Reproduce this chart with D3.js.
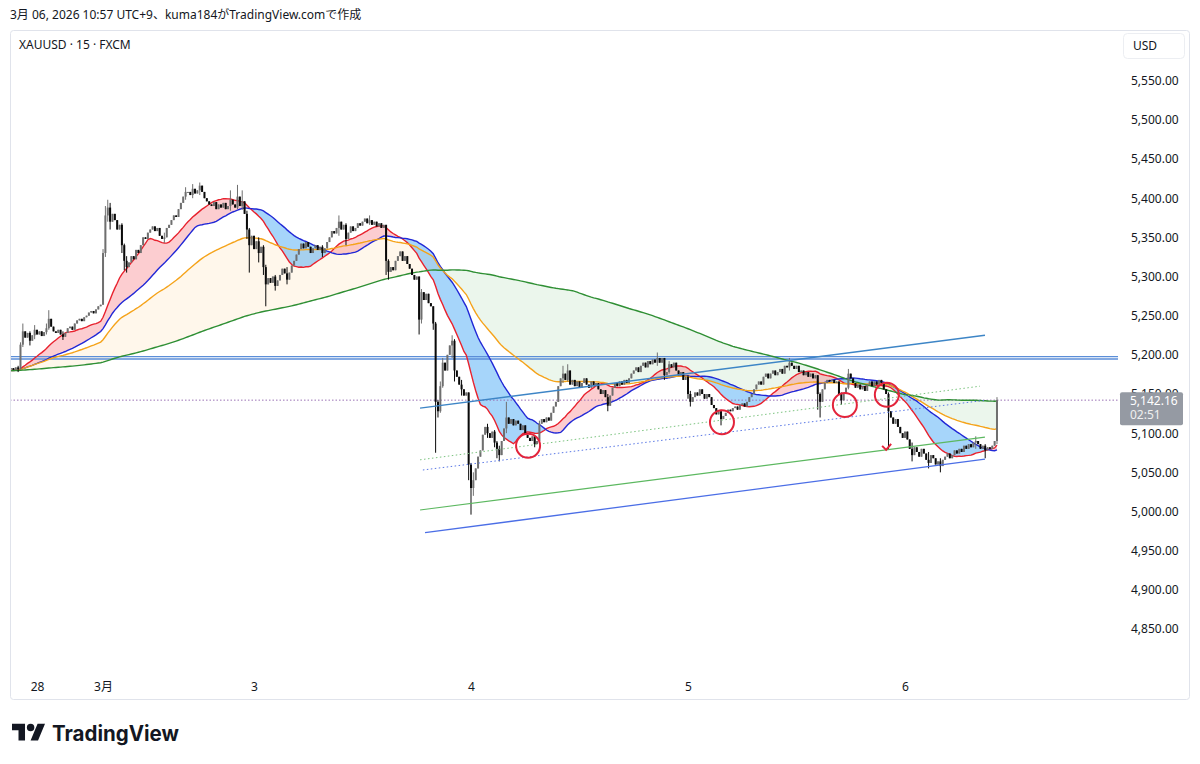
<!DOCTYPE html>
<html>
<head>
<meta charset="utf-8">
<script src="https://cdn.jsdelivr.net/npm/d3@7"></script>
<style>
	body{margin:0;background:#fff;}
	svg text{font-family:"Noto Sans","Noto Sans CJK JP",sans-serif;fill:#131722;}
</style>
</head>
<body>
<svg id="chart" width="1200" height="764"></svg>
<script>

// 15分足  close/high/low（high・low省略 = ヒゲなし）
var sessionStart = [1, 40, 104, 196, 288, 380];

var barsFeb27 = `
5183 5181 5184 5182/5186/5178 5213/5216/5181 5230/5240/5210 5222 5228 5218/5230/5212 5225
5232/5238/5220 5226 5230 5224 5229 5234/5240/5226 5246/5257/5232 5236 5230 5228
5232 5226 5223/5230/5219 5228 5234 5236 5232 5240 5244 5246
5243 5248 5250 5254 5256 5253 5258 5262 5264`;

var barsMar2 = `
5330/5335/5264 5378/5390/5325 5388/5398/5370 5370/5394/5360 5380 5372 5360 5366 5340/5368/5330 5320/5342/5308
5312/5326/5305 5318 5326 5322 5334 5330 5340 5350 5348 5356
5360 5364 5358 5362 5352 5348 5350/5356/5343 5362 5366 5372
5378 5376 5386 5394 5402 5408/5414/5398 5408 5404 5412/5418/5400 5406
5410 5416/5420/5404 5408 5400 5396 5392 5390 5395 5386 5392
5388 5394 5386 5390 5398/5410/5384 5392 5388 5402/5417/5386 5390 5396/5410/5385
5380 5360/5384/5348 5340/5362/5305 5352`;

var barsMar3 = `
5335 5345 5330/5350/5318 5338 5312/5340/5302 5290/5315/5262 5298 5292 5300 5288/5302/5282
5295 5302 5310 5304 5296/5312/5290 5305 5314 5320 5328 5335
5342 5336 5344 5338 5330 5336 5340 5334 5338 5330/5340/5325
5336 5344 5350 5358 5355 5362 5370/5378/5352 5360 5366 5348/5368/5340
5356 5364 5358 5362 5368 5365 5370 5374 5368 5372/5378/5366
5366 5370 5364 5368 5362 5366 5320/5366/5302 5306/5322/5296 5312 5308
5320 5326 5332 5320 5326 5316 5310 5302 5296 5300
5245/5300/5226 5280/5284/5240 5270 5278 5266 5262 5240/5262/5232 5140/5242/5075 5128/5142/5120 5160/5166/5126
5190/5196/5158 5180 5200 5212 5218/5225/5196 5180/5220/5166 5172 5162 5156/5168/5148 5148
5152 5060/5150/5040`;

var barsMar4 = `
5030/5062/4996 5040/5050/5020 5055 5070 5078 5098 5108 5100/5112/5094 5094 5102
5088/5104/5082 5080/5090/5068 5072/5084/5064 5090 5106 5120/5140/5100 5112 5118 5110 5116
5112 5104 5110 5098 5094 5090 5096 5086/5098/5082 5090 5112/5116/5088
5118 5114 5120 5116 5126 5134 5140 5160 5170 5176/5186/5164
5168 5180/5188/5166 5162 5168 5160 5166 5158 5164 5170 5162
5158 5166 5160 5164 5156 5150 5155 5146 5135/5150/5128 5148
5158 5164 5160 5166 5162 5168 5164 5170 5176 5180
5184 5178 5186 5190 5184 5192 5188 5194 5190 5196/5203/5186
5190 5196 5174/5196/5168 5178 5188/5192/5176 5184 5190 5180 5174 5178
5168 5172`;

var barsMar5 = `
5150/5174/5144 5140/5154/5134 5146 5152 5148 5156 5150 5144 5150 5146
5136 5132 5124 5128 5118/5130/5110 5122 5126 5130 5128 5132
5134 5130 5136 5138 5134 5140 5146 5150 5156 5162
5166 5162 5172 5176 5170 5176 5180 5174 5178 5182
5176 5186 5184 5190/5196/5180 5186 5182 5186 5178 5180 5174
5178 5172 5176 5170 5174 5150/5174/5130 5140/5152/5120 5156 5164 5168
5166 5168 5164 5166 5150 5142/5152/5136 5150 5158 5176/5182/5156 5170
5164 5158 5162 5156 5160 5154 5162 5166 5160 5166
5162 5168 5164 5156 5150 5128/5152/5080 5120 5112 5118 5108
5100 5094`;

var barsMar6 = `
5102 5092 5080 5072/5088/5064 5082 5076 5070 5080 5074 5066
5062/5076/5055 5072 5068 5060 5064 5058/5068/5050 5066 5070 5074 5068
5072 5078 5074 5080 5076 5084 5080 5086 5082 5088
5090/5096/5080 5086 5080 5084 5078/5086/5068 5082 5080 5084 5090 5142.16/5146/5086`;

var sessions = [barsFeb27, barsMar2, barsMar3, barsMar4, barsMar5, barsMar6];

var timeTickIdx = [12, 40, 104, 196, 288, 380];
var timeTickLabels = ["28", "3月", "3", "4", "5", "6"];
var priceTicks = [4850, 4900, 4950, 5000, 5050, 5100, 5150, 5200, 5250, 5300, 5350, 5400, 5450, 5500, 5550];

var lastPrice = 5142.16;
var countdown = "02:51";
var maPeriods = [20, 40, 75, 200];          // 赤, 青, オレンジ, 緑
var maTypes = ["sma", "sma", "ema", "sma"];
var warmupClose = 5180;                     // 表示範囲より前の水準（移動平均の助走用）

// 描画ツール（バー番号, 価格）
var hLevels = [5197.7, 5194.7];
var channelTop = [174.4, 5132, 413.9, 5225];
var channelGreenDot = [174.4, 5066, 411.8, 5160];
var channelBlueDot = [175.6, 5053, 413.9, 5142];
var channelGreen = [174.4, 5002, 413.9, 5095];
var channelBottom = [176.5, 4973, 413.9, 5067];
var circleIdx = [220.2, 302.4, 354.5, 372.3];
var circlePrice = [5084, 5114, 5136, 5149];
var checkMark = [372.0, 5080];

//--- データ整形
var bars = [];
sessions.forEach(function(s, k){
	s.trim().split(/\s+/).forEach(function(t, j){
		var v = t.split("/").map(Number);
		bars.push({i: sessionStart[k] + j, c: v[0], h: v[1], l: v[2]});
	});
});
bars.forEach(function(d, n){
	d.o = n ? bars[n-1].c : d.c;
	d.h = Math.max(d.h === undefined ? -Infinity : d.h, d.o, d.c);
	d.l = Math.min(d.l === undefined ? Infinity : d.l, d.o, d.c);
});

function sma(period){
	var q = [], sum = warmupClose * period;
	for(var k=0; k<period; k++) q.push(warmupClose);
	return bars.map(function(d){
		sum += d.c - q.shift();
		q.push(d.c);
		return sum / period;
	});
}
function ema(period){
	var a = 2 / (period + 1), e = warmupClose;
	return bars.map(function(d){
		e = a * d.c + (1 - a) * e;
		return e;
	});
}
var ma = maPeriods.map(function(p, k){ return maTypes[k] == "ema" ? ema(p) : sma(p); });

//--- スケール
var x = d3.scaleLinear().domain([196, 380]).range([471, 905]);
var y = d3.scaleLinear().domain([4850, 5550]).range([629, 80.7]);

var svg = d3.select("#chart");
var defs = svg.append("defs");

defs.append("clipPath").attr("id", "plotClip")
	.append("rect").attr("x", 11).attr("y", 31).attr("width", 1107).attr("height", 639);

// 枠
svg.append("rect")
	.attr("x", 10.5).attr("y", 30.5).attr("width", 1179).attr("height", 669)
	.attr("rx", 3).attr("fill", "#fff").attr("stroke", "#e0e3eb");

svg.append("text").attr("x", 10).attr("y", 19).attr("font-size", 12)
	.text("3月 06, 2026 10:57 UTC+9、kuma184がTradingView.comで作成");

svg.append("text").attr("x", 19).attr("y", 48.5).attr("font-size", 12)
	.text("XAUUSD · 15 · FXCM");

var plot = svg.append("g").attr("clip-path", "url(#plotClip)");

//--- 帯の塗り（移動平均の差）
function band(a, b, upColor, downColor, id){
	var xi = function(d, n){ return x(bars[n].i); };
	var area = d3.area().x(xi)
		.y0(function(d, n){ return y(b[n]); })
		.y1(function(d, n){ return y(a[n]); });
	defs.append("clipPath").attr("id", id + "Up").append("path")
		.attr("d", d3.area().x(xi).y0(720).y1(function(d, n){ return y(a[n]); })(a));
	defs.append("clipPath").attr("id", id + "Dn").append("path")
		.attr("d", d3.area().x(xi).y0(0).y1(function(d, n){ return y(a[n]); })(a));
	plot.append("path").attr("d", area(a)).attr("fill", upColor)
		.attr("clip-path", "url(#" + id + "Up)");
	plot.append("path").attr("d", area(a)).attr("fill", downColor)
		.attr("clip-path", "url(#" + id + "Dn)");
}
band(ma[2], ma[3], "rgba(255,152,0,0.08)", "rgba(76,175,80,0.11)", "slow");
band(ma[0], ma[1], "rgba(242,54,69,0.25)", "rgba(33,150,243,0.4)", "fast");

//--- 水平線
plot.selectAll(".hl").data(hLevels).enter().append("line")
	.attr("x1", 10).attr("x2", 1118)
	.attr("y1", function(d){ return y(d); }).attr("y2", function(d){ return y(d); })
	.attr("stroke", "#5b8ed8").attr("stroke-width", 1.3);

plot.append("line")
	.attr("x1", 10).attr("x2", 1118)
	.attr("y1", y(lastPrice)).attr("y2", y(lastPrice))
	.attr("stroke", "#9a72b4").attr("stroke-width", 1).attr("stroke-dasharray", "1.5,2");

//--- 移動平均線
var maColors = ["#e8222e", "#2128d6", "#f5a31a", "#2f8f34"];
ma.forEach(function(m, k){
	plot.append("path")
		.attr("d", d3.line().x(function(d, n){ return x(bars[n].i); }).y(function(d){ return y(d); })(m))
		.attr("fill", "none").attr("stroke", maColors[k]).attr("stroke-width", 1.4);
});

//--- ローソク足
var candles = plot.selectAll(".candle").data(bars).enter().append("g");
candles.append("line")
	.attr("x1", function(d){ return x(d.i); }).attr("x2", function(d){ return x(d.i); })
	.attr("y1", function(d){ return y(d.h); }).attr("y2", function(d){ return y(d.l); })
	.attr("stroke", function(d){ return d.c >= d.o ? "#6f6f6f" : "#0a0a0a"; })
	.attr("stroke-width", 1);
candles.append("rect")
	.attr("x", function(d){ return x(d.i) - 1; })
	.attr("width", 2)
	.attr("y", function(d){ return y(Math.max(d.o, d.c)); })
	.attr("height", function(d){ return Math.max(1, Math.abs(y(d.o) - y(d.c))); })
	.attr("fill", function(d){ return d.c >= d.o ? "#6f6f6f" : "#0a0a0a"; });

//--- トレンドライン
function seg(p, color, width, dash){
	plot.append("line")
		.attr("x1", x(p[0])).attr("y1", y(p[1]))
		.attr("x2", x(p[2])).attr("y2", y(p[3]))
		.attr("stroke", color).attr("stroke-width", width)
		.attr("stroke-dasharray", dash || null);
}
seg(channelTop, "#3d85c6", 1.4);
seg(channelGreenDot, "#7cc47f", 1, "1.5,2.5");
seg(channelBlueDot, "#5a78e6", 1, "1.5,2.5");
seg(channelGreen, "#5cb860", 1.1);
seg(channelBottom, "#4b6ee6", 1.3);

plot.selectAll(".mark").data(circleIdx).enter().append("circle")
	.attr("cx", function(d){ return x(d); })
	.attr("cy", function(d, k){ return y(circlePrice[k]); })
	.attr("r", 12)
	.attr("fill", "none").attr("stroke", "#e3243b").attr("stroke-width", 2);

var cx = x(checkMark[0]), cy = y(checkMark[1]);
plot.append("path")
	.attr("d", "M" + (cx - 4) + "," + (cy - 3) + "L" + cx + "," + (cy + 1) + "L" + (cx + 5) + "," + (cy - 5))
	.attr("fill", "none").attr("stroke", "#e3243b").attr("stroke-width", 2);

//--- 価格軸
var yAxis = svg.append("g").attr("transform", "translate(1131,0)")
	.call(d3.axisRight(y).tickValues(priceTicks).tickFormat(d3.format(",.2f")).tickSize(0).tickPadding(0));
yAxis.select(".domain").remove();
yAxis.selectAll("text").attr("font-size", 12).attr("font-family", null).attr("fill", "#131722");

svg.append("rect").attr("x", 1123.5).attr("y", 33.5).attr("width", 61).attr("height", 25)
	.attr("rx", 4).attr("fill", "#fff").attr("stroke", "#eceef2");
svg.append("text").attr("x", 1133).attr("y", 50).attr("font-size", 12).text("USD");

// 現在値ラベル
var ly = y(lastPrice);
svg.append("rect").attr("x", 1120).attr("y", ly - 8).attr("width", 63).attr("height", 33)
	.attr("rx", 2).attr("fill", "#959aa3");
svg.append("text").attr("x", 1130).attr("y", ly + 4.5).attr("font-size", 12)
	.style("fill", "#fff").text(d3.format(",.2f")(lastPrice));
svg.append("text").attr("x", 1130).attr("y", ly + 19).attr("font-size", 12)
	.style("fill", "#f0f0f0").text(countdown);

//--- 時間軸
var xAxis = svg.append("g").attr("transform", "translate(0,679)")
	.call(d3.axisBottom(x).tickValues(timeTickIdx)
		.tickFormat(function(d, k){ return timeTickLabels[k]; }).tickSize(0).tickPadding(3));
xAxis.select(".domain").remove();
xAxis.selectAll("text").attr("font-size", 12).attr("font-family", null).attr("fill", "#131722");

//--- ロゴ
var logo = svg.append("g").attr("transform", "translate(12,720) scale(0.93)");
logo.append("path").attr("d", "M14 22H7V11H0V4h14v18zM28 22h-8l7.5-18h8L28 22z").attr("fill", "#131722");
logo.append("circle").attr("cx", 20).attr("cy", 8).attr("r", 4).attr("fill", "#131722");
svg.append("text").attr("x", 52).attr("y", 740.5)
	.attr("font-size", 21).attr("font-weight", 700)
	.attr("textLength", 127).attr("lengthAdjust", "spacingAndGlyphs")
	.style("font-family", "Inter, 'Noto Sans', sans-serif")
	.text("TradingView");

</script>
</body>
</html>
